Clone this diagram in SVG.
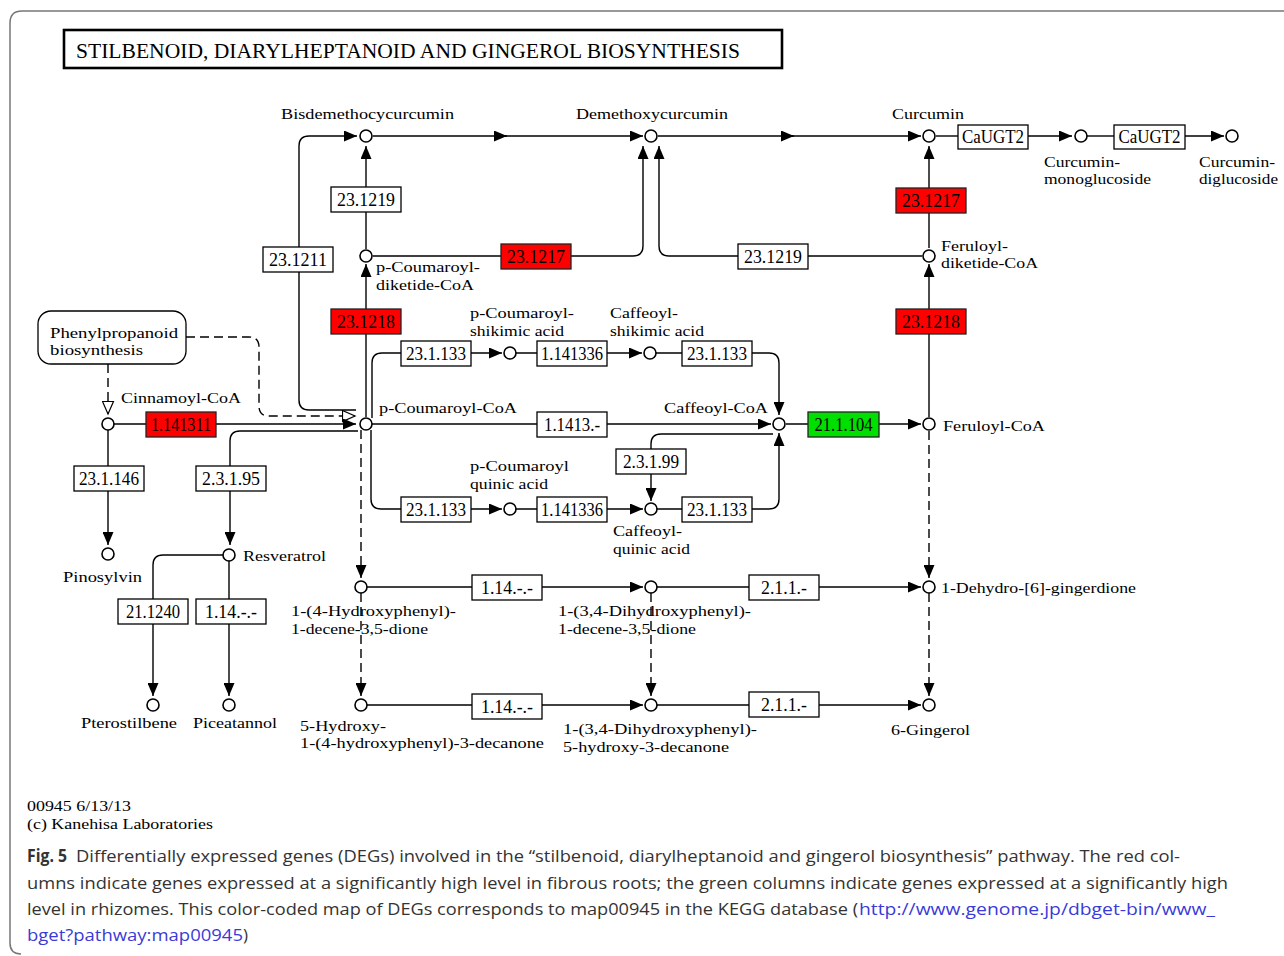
<svg xmlns="http://www.w3.org/2000/svg" width="1284" height="956" viewBox="0 0 1284 956">
<style>
.ln{fill:none;stroke:#000;stroke-width:1.4}
.dl{fill:none;stroke:#000;stroke-width:1.4;stroke-dasharray:9 5}
.bx{fill:#fff;stroke:#000;stroke-width:1.3}
.rd{fill:#ff0000;stroke:#222;stroke-width:1.3}
.gn{fill:#00e000;stroke:#222;stroke-width:1.3}
.nd{fill:#fff;stroke:#000;stroke-width:1.6}
.lb{font-family:"Liberation Serif",serif;font-size:15.5px;fill:#000}
.bt{font-family:"Liberation Serif",serif;font-size:18px;fill:#000;text-anchor:middle}
.cap{font-family:"Open Sans","Noto Sans",sans-serif;font-size:17px;fill:#333}
.lnk{font-family:"Open Sans","Noto Sans",sans-serif;font-size:17px;fill:#3a3ad8}
</style>
<defs>
<marker id="a" markerUnits="userSpaceOnUse" markerWidth="14" markerHeight="11" refX="13" refY="5.5" orient="auto"><path d="M0,0 L13,5.5 L0,11 z" fill="#000"/></marker>
<marker id="h" markerUnits="userSpaceOnUse" markerWidth="15" markerHeight="13" refX="13.5" refY="6.5" orient="auto"><path d="M1,1 L13.5,6.5 L1,12 z" fill="#fff" stroke="#000" stroke-width="1.2"/></marker>
</defs>
<rect width="1284" height="956" fill="#fff"/>
<path d="M1284,11 H22 Q10,11 10,23 V943 Q10,954 21,954" fill="none" stroke="#777" stroke-width="1.5"/>

<g id="title">
<rect x="64" y="30" width="718" height="38" fill="#fff" stroke="#000" stroke-width="2.6"/>
<text x="76" y="58" font-family="Liberation Serif,serif" font-size="21" textLength="664" lengthAdjust="spacingAndGlyphs">STILBENOID, DIARYLHEPTANOID AND GINGEROL BIOSYNTHESIS</text>
</g>

<g id="connectors">
<path class="ln" d="M373,136 H507" marker-end="url(#a)"/>
<path class="ln" d="M505,136 H643" marker-end="url(#a)"/>
<path class="ln" d="M658,136 H794" marker-end="url(#a)"/>
<path class="ln" d="M792,136 H921" marker-end="url(#a)"/>
<path class="ln" d="M936,136 H958"/>
<path class="ln" d="M1028,136 H1072" marker-end="url(#a)"/>
<path class="ln" d="M1087,136 H1114"/>
<path class="ln" d="M1185,136 H1224" marker-end="url(#a)"/>
<path class="ln" d="M366,249 V146" marker-end="url(#a)"/>
<path class="ln" d="M373,256 H633 Q643,256 643,246 V146" marker-end="url(#a)"/>
<path class="ln" d="M922,256 H669 Q659,256 659,246 V146" marker-end="url(#a)"/>
<path class="ln" d="M929,248 V146" marker-end="url(#a)"/>
<path class="ln" d="M929,417 V264" marker-end="url(#a)"/>
<path class="ln" d="M366,417 V264" marker-end="url(#a)"/>
<path class="ln" d="M356,410 H309 Q299,410 299,400 V146 Q299,136 309,136 H357" marker-end="url(#a)"/>
<path class="dl" d="M186,337 H249 Q259,337 259,347 V406 Q259,416 269,416 H355" marker-end="url(#h)"/>
<path class="dl" d="M108,364 V414" marker-end="url(#h)"/>
<path class="ln" d="M114,424 H356" marker-end="url(#a)"/>
<path class="ln" d="M358,431 H240 Q230,431 230,441 V545" marker-end="url(#a)"/>
<path class="ln" d="M108,430 V545" marker-end="url(#a)"/>
<path class="ln" d="M223,555 H163 Q153,555 153,565 V696" marker-end="url(#a)"/>
<path class="ln" d="M229,561 V696" marker-end="url(#a)"/>
<path class="ln" d="M372,418 V363 Q372,353 382,353 H502" marker-end="url(#a)"/>
<path class="ln" d="M516,353 H642" marker-end="url(#a)"/>
<path class="ln" d="M656,353 H769 Q779,353 779,363 V415" marker-end="url(#a)"/>
<path class="ln" d="M372,424 H771" marker-end="url(#a)"/>
<path class="ln" d="M371,430 V499 Q371,509 381,509 H502" marker-end="url(#a)"/>
<path class="ln" d="M516,509 H643" marker-end="url(#a)"/>
<path class="ln" d="M657,509 H769 Q779,509 779,499 V433" marker-end="url(#a)"/>
<path class="ln" d="M773,434 H661 Q651,434 651,444 V501" marker-end="url(#a)"/>
<path class="ln" d="M786,424 H921" marker-end="url(#a)"/>
<path class="dl" d="M929,431 V578" marker-end="url(#a)"/>
<path class="dl" d="M929,593 V696" marker-end="url(#a)"/>
<path class="dl" d="M361,430 V578" marker-end="url(#a)"/>
<path class="dl" d="M361,593 V696" marker-end="url(#a)"/>
<path class="dl" d="M651,593 V696" marker-end="url(#a)"/>
<path class="ln" d="M367,587 H643" marker-end="url(#a)"/>
<path class="ln" d="M657,587 H921" marker-end="url(#a)"/>
<path class="ln" d="M367,705 H643" marker-end="url(#a)"/>
<path class="ln" d="M657,705 H921" marker-end="url(#a)"/>
</g>

<g id="n-phenylpropanoid"><rect x="38" y="311" width="148" height="53" rx="13" class="bx"/><text class="lb" x="50" y="337.5" textLength="128" lengthAdjust="spacingAndGlyphs">Phenylpropanoid</text><text class="lb" x="50" y="355" textLength="93" lengthAdjust="spacingAndGlyphs">biosynthesis</text></g>

<g id="n-bdmc"><circle class="nd" cx="366" cy="136" r="6"/><text class="lb" x="281" y="119" textLength="173" lengthAdjust="spacingAndGlyphs">Bisdemethocycurcumin</text></g>
<g id="n-dmc"><circle class="nd" cx="651" cy="136" r="6"/><text class="lb" x="576" y="119" textLength="152" lengthAdjust="spacingAndGlyphs">Demethoxycurcumin</text></g>
<g id="n-cur"><circle class="nd" cx="929" cy="136" r="6"/><text class="lb" x="892" y="119" textLength="72" lengthAdjust="spacingAndGlyphs">Curcumin</text></g>
<g id="n-cmg"><circle class="nd" cx="1081" cy="136" r="6"/><text class="lb" x="1044" y="166.5" textLength="76" lengthAdjust="spacingAndGlyphs">Curcumin-</text><text class="lb" x="1044" y="184" textLength="107" lengthAdjust="spacingAndGlyphs">monoglucoside</text></g>
<g id="n-cdg"><circle class="nd" cx="1232" cy="136" r="6"/><text class="lb" x="1199" y="166.5" textLength="76" lengthAdjust="spacingAndGlyphs">Curcumin-</text><text class="lb" x="1199" y="184" textLength="79" lengthAdjust="spacingAndGlyphs">diglucoside</text></g>
<g id="n-pcdk"><circle class="nd" cx="366" cy="256" r="6"/><text class="lb" x="376" y="272" textLength="104" lengthAdjust="spacingAndGlyphs">p-Coumaroyl-</text><text class="lb" x="376" y="289.5" textLength="98" lengthAdjust="spacingAndGlyphs">diketide-CoA</text></g>
<g id="n-fdk"><circle class="nd" cx="929" cy="256" r="6"/><text class="lb" x="941" y="250.5" textLength="67" lengthAdjust="spacingAndGlyphs">Feruloyl-</text><text class="lb" x="941" y="268" textLength="97" lengthAdjust="spacingAndGlyphs">diketide-CoA</text></g>
<g id="n-cincoa"><circle class="nd" cx="108" cy="424" r="6"/><text class="lb" x="121" y="403" textLength="120" lengthAdjust="spacingAndGlyphs">Cinnamoyl-CoA</text></g>
<g id="n-pccoa"><circle class="nd" cx="366" cy="424" r="6"/><text class="lb" x="379" y="413" textLength="138" lengthAdjust="spacingAndGlyphs">p-Coumaroyl-CoA</text></g>
<g id="n-cafcoa"><circle class="nd" cx="779" cy="424" r="6"/><text class="lb" x="664" y="413" textLength="104" lengthAdjust="spacingAndGlyphs">Caffeoyl-CoA</text></g>
<g id="n-fercoa"><circle class="nd" cx="929" cy="424" r="6"/><text class="lb" x="943" y="431" textLength="102" lengthAdjust="spacingAndGlyphs">Feruloyl-CoA</text></g>
<g id="n-pcsa"><circle class="nd" cx="510" cy="353" r="6"/><text class="lb" x="470" y="318" textLength="104" lengthAdjust="spacingAndGlyphs">p-Coumaroyl-</text><text class="lb" x="470" y="335.5" textLength="94" lengthAdjust="spacingAndGlyphs">shikimic acid</text></g>
<g id="n-csa"><circle class="nd" cx="650" cy="353" r="6"/><text class="lb" x="610" y="318" textLength="68" lengthAdjust="spacingAndGlyphs">Caffeoyl-</text><text class="lb" x="610" y="335.5" textLength="94" lengthAdjust="spacingAndGlyphs">shikimic acid</text></g>
<g id="n-pcqa"><circle class="nd" cx="510" cy="509" r="6"/><text class="lb" x="470" y="471" textLength="99" lengthAdjust="spacingAndGlyphs">p-Coumaroyl</text><text class="lb" x="470" y="488.5" textLength="78" lengthAdjust="spacingAndGlyphs">quinic acid</text></g>
<g id="n-cqa"><circle class="nd" cx="651" cy="509" r="6"/><text class="lb" x="613" y="536" textLength="69" lengthAdjust="spacingAndGlyphs">Caffeoyl-</text><text class="lb" x="613" y="553.5" textLength="77" lengthAdjust="spacingAndGlyphs">quinic acid</text></g>
<g id="n-pino"><circle class="nd" cx="108" cy="554" r="6"/><text class="lb" x="63" y="582" textLength="79" lengthAdjust="spacingAndGlyphs">Pinosylvin</text></g>
<g id="n-resv"><circle class="nd" cx="229" cy="555" r="6"/><text class="lb" x="243" y="561" textLength="83" lengthAdjust="spacingAndGlyphs">Resveratrol</text></g>
<g id="n-ptero"><circle class="nd" cx="153" cy="705" r="6"/><text class="lb" x="81" y="728" textLength="96" lengthAdjust="spacingAndGlyphs">Pterostilbene</text></g>
<g id="n-picea"><circle class="nd" cx="229" cy="705" r="6"/><text class="lb" x="193" y="728" textLength="84" lengthAdjust="spacingAndGlyphs">Piceatannol</text></g>
<g id="n-hpd"><circle class="nd" cx="361" cy="587" r="6"/><text class="lb" x="291" y="616" textLength="165" lengthAdjust="spacingAndGlyphs">1-(4-Hydroxyphenyl)-</text><text class="lb" x="291" y="633.5" textLength="137" lengthAdjust="spacingAndGlyphs">1-decene-3,5-dione</text></g>
<g id="n-dhpd"><circle class="nd" cx="651" cy="587" r="6"/><text class="lb" x="558" y="616" textLength="193" lengthAdjust="spacingAndGlyphs">1-(3,4-Dihydroxyphenyl)-</text><text class="lb" x="558" y="633.5" textLength="138" lengthAdjust="spacingAndGlyphs">1-decene-3,5-dione</text></g>
<g id="n-dhg"><circle class="nd" cx="929" cy="587" r="6"/><text class="lb" x="941" y="593" textLength="195" lengthAdjust="spacingAndGlyphs">1-Dehydro-[6]-gingerdione</text></g>
<g id="n-hhd"><circle class="nd" cx="361" cy="705" r="6"/><text class="lb" x="300" y="730.5" textLength="86" lengthAdjust="spacingAndGlyphs">5-Hydroxy-</text><text class="lb" x="300" y="748" textLength="244" lengthAdjust="spacingAndGlyphs">1-(4-hydroxyphenyl)-3-decanone</text></g>
<g id="n-dhhd"><circle class="nd" cx="651" cy="705" r="6"/><text class="lb" x="563" y="734" textLength="194" lengthAdjust="spacingAndGlyphs">1-(3,4-Dihydroxyphenyl)-</text><text class="lb" x="563" y="751.5" textLength="166" lengthAdjust="spacingAndGlyphs">5-hydroxy-3-decanone</text></g>
<g id="n-gin"><circle class="nd" cx="929" cy="705" r="6"/><text class="lb" x="891" y="735" textLength="79" lengthAdjust="spacingAndGlyphs">6-Gingerol</text></g>

<g id="e-23-1-219-a"><rect class="bx" x="331" y="187" width="70" height="25"/><text class="bt" x="366" y="206" textLength="58" lengthAdjust="spacingAndGlyphs">23.1219</text></g>
<g id="e-23-1-211"><rect class="bx" x="263" y="247" width="70" height="25"/><text class="bt" x="298" y="266" textLength="58" lengthAdjust="spacingAndGlyphs">23.1211</text></g>
<g id="e-23-1-217-a"><rect class="rd" x="501" y="244" width="70" height="25"/><text class="bt" x="536" y="263" textLength="58" lengthAdjust="spacingAndGlyphs">23.1217</text></g>
<g id="e-23-1-219-b"><rect class="bx" x="738" y="244" width="70" height="25"/><text class="bt" x="773" y="263" textLength="58" lengthAdjust="spacingAndGlyphs">23.1219</text></g>
<g id="e-23-1-217-b"><rect class="rd" x="896" y="188" width="70" height="25"/><text class="bt" x="931" y="207" textLength="58" lengthAdjust="spacingAndGlyphs">23.1217</text></g>
<g id="e-23-1-218-a"><rect class="rd" x="331" y="309" width="70" height="25"/><text class="bt" x="366" y="328" textLength="58" lengthAdjust="spacingAndGlyphs">23.1218</text></g>
<g id="e-23-1-218-b"><rect class="rd" x="896" y="309" width="70" height="25"/><text class="bt" x="931" y="328" textLength="58" lengthAdjust="spacingAndGlyphs">23.1218</text></g>
<g id="e-caugt2-a"><rect class="bx" x="958" y="125" width="70" height="24"/><text class="bt" x="993" y="143" textLength="62" lengthAdjust="spacingAndGlyphs">CaUGT2</text></g>
<g id="e-caugt2-b"><rect class="bx" x="1114" y="125" width="71" height="24"/><text class="bt" x="1149.5" y="143" textLength="62" lengthAdjust="spacingAndGlyphs">CaUGT2</text></g>
<g id="e-23-1-133-a"><rect class="bx" x="401" y="341" width="70" height="25"/><text class="bt" x="436" y="360" textLength="60" lengthAdjust="spacingAndGlyphs">23.1.133</text></g>
<g id="e-1-14-13-36-a"><rect class="bx" x="537" y="341" width="70" height="25"/><text class="bt" x="572" y="360" textLength="62" lengthAdjust="spacingAndGlyphs">1.141336</text></g>
<g id="e-23-1-133-b"><rect class="bx" x="682" y="341" width="70" height="25"/><text class="bt" x="717" y="360" textLength="60" lengthAdjust="spacingAndGlyphs">23.1.133</text></g>
<g id="e-1-14-13"><rect class="bx" x="537" y="412" width="70" height="25"/><text class="bt" x="572" y="431" textLength="56" lengthAdjust="spacingAndGlyphs">1.1413.-</text></g>
<g id="e-1-14-13-11"><rect class="rd" x="146" y="412" width="70" height="25"/><text class="bt" x="181" y="431" textLength="60" lengthAdjust="spacingAndGlyphs">1.141311</text></g>
<g id="e-2-1-1-104"><rect class="gn" x="808" y="412" width="71" height="25"/><text class="bt" x="843.5" y="431" textLength="58" lengthAdjust="spacingAndGlyphs">21.1.104</text></g>
<g id="e-23-1-146"><rect class="bx" x="74" y="466" width="70" height="25"/><text class="bt" x="109" y="485" textLength="60" lengthAdjust="spacingAndGlyphs">23.1.146</text></g>
<g id="e-2-3-1-95"><rect class="bx" x="196" y="466" width="70" height="25"/><text class="bt" x="231" y="485" textLength="58" lengthAdjust="spacingAndGlyphs">2.3.1.95</text></g>
<g id="e-2-3-1-99"><rect class="bx" x="616" y="449" width="70" height="25"/><text class="bt" x="651" y="468" textLength="56" lengthAdjust="spacingAndGlyphs">2.3.1.99</text></g>
<g id="e-23-1-133-c"><rect class="bx" x="401" y="497" width="70" height="25"/><text class="bt" x="436" y="516" textLength="60" lengthAdjust="spacingAndGlyphs">23.1.133</text></g>
<g id="e-1-14-13-36-b"><rect class="bx" x="537" y="497" width="70" height="25"/><text class="bt" x="572" y="516" textLength="62" lengthAdjust="spacingAndGlyphs">1.141336</text></g>
<g id="e-23-1-133-d"><rect class="bx" x="682" y="497" width="70" height="25"/><text class="bt" x="717" y="516" textLength="60" lengthAdjust="spacingAndGlyphs">23.1.133</text></g>
<g id="e-2-1-1-240"><rect class="bx" x="118" y="599" width="70" height="25"/><text class="bt" x="153" y="618" textLength="54" lengthAdjust="spacingAndGlyphs">21.1240</text></g>
<g id="e-1-14-a"><rect class="bx" x="196" y="599" width="70" height="25"/><text class="bt" x="231" y="618" textLength="52" lengthAdjust="spacingAndGlyphs">1.14.-.-</text></g>
<g id="e-1-14-b"><rect class="bx" x="472" y="575" width="70" height="25"/><text class="bt" x="507" y="594" textLength="52" lengthAdjust="spacingAndGlyphs">1.14.-.-</text></g>
<g id="e-2-1-1-a"><rect class="bx" x="749" y="575" width="70" height="25"/><text class="bt" x="784" y="594" textLength="46" lengthAdjust="spacingAndGlyphs">2.1.1.-</text></g>
<g id="e-1-14-c"><rect class="bx" x="472" y="694" width="70" height="25"/><text class="bt" x="507" y="713" textLength="52" lengthAdjust="spacingAndGlyphs">1.14.-.-</text></g>
<g id="e-2-1-1-b"><rect class="bx" x="749" y="692" width="70" height="25"/><text class="bt" x="784" y="711" textLength="46" lengthAdjust="spacingAndGlyphs">2.1.1.-</text></g>

<g id="footer">
<text x="27" y="811" font-family="Liberation Serif,serif" font-size="15" textLength="104" lengthAdjust="spacingAndGlyphs">00945 6/13/13</text>
<text x="27" y="829" font-family="Liberation Serif,serif" font-size="15" textLength="186" lengthAdjust="spacingAndGlyphs">(c) Kanehisa Laboratories</text>
</g>

<g id="caption">
<text x="27" y="862" font-family="Open Sans,Noto Sans,sans-serif" font-size="17" font-weight="bold" fill="#333" textLength="40" lengthAdjust="spacingAndGlyphs">Fig. 5</text>
<text class="cap" x="76" y="862" textLength="1104" lengthAdjust="spacingAndGlyphs">Differentially expressed genes (DEGs) involved in the “stilbenoid, diarylheptanoid and gingerol biosynthesis” pathway. The red col-</text>
<text class="cap" x="27" y="889" textLength="1201" lengthAdjust="spacingAndGlyphs">umns indicate genes expressed at a significantly high level in fibrous roots; the green columns indicate genes expressed at a significantly high</text>
<text class="cap" x="27" y="915" textLength="831" lengthAdjust="spacingAndGlyphs">level in rhizomes. This color-coded map of DEGs corresponds to map00945 in the KEGG database (</text>
<text class="lnk" x="859" y="915" textLength="356" lengthAdjust="spacingAndGlyphs">http://www.genome.jp/dbget-bin/www_</text>
<text class="lnk" x="27" y="941" textLength="216" lengthAdjust="spacingAndGlyphs">bget?pathway:map00945</text>
<text class="cap" x="243" y="941">)</text>
</g>
</svg>
